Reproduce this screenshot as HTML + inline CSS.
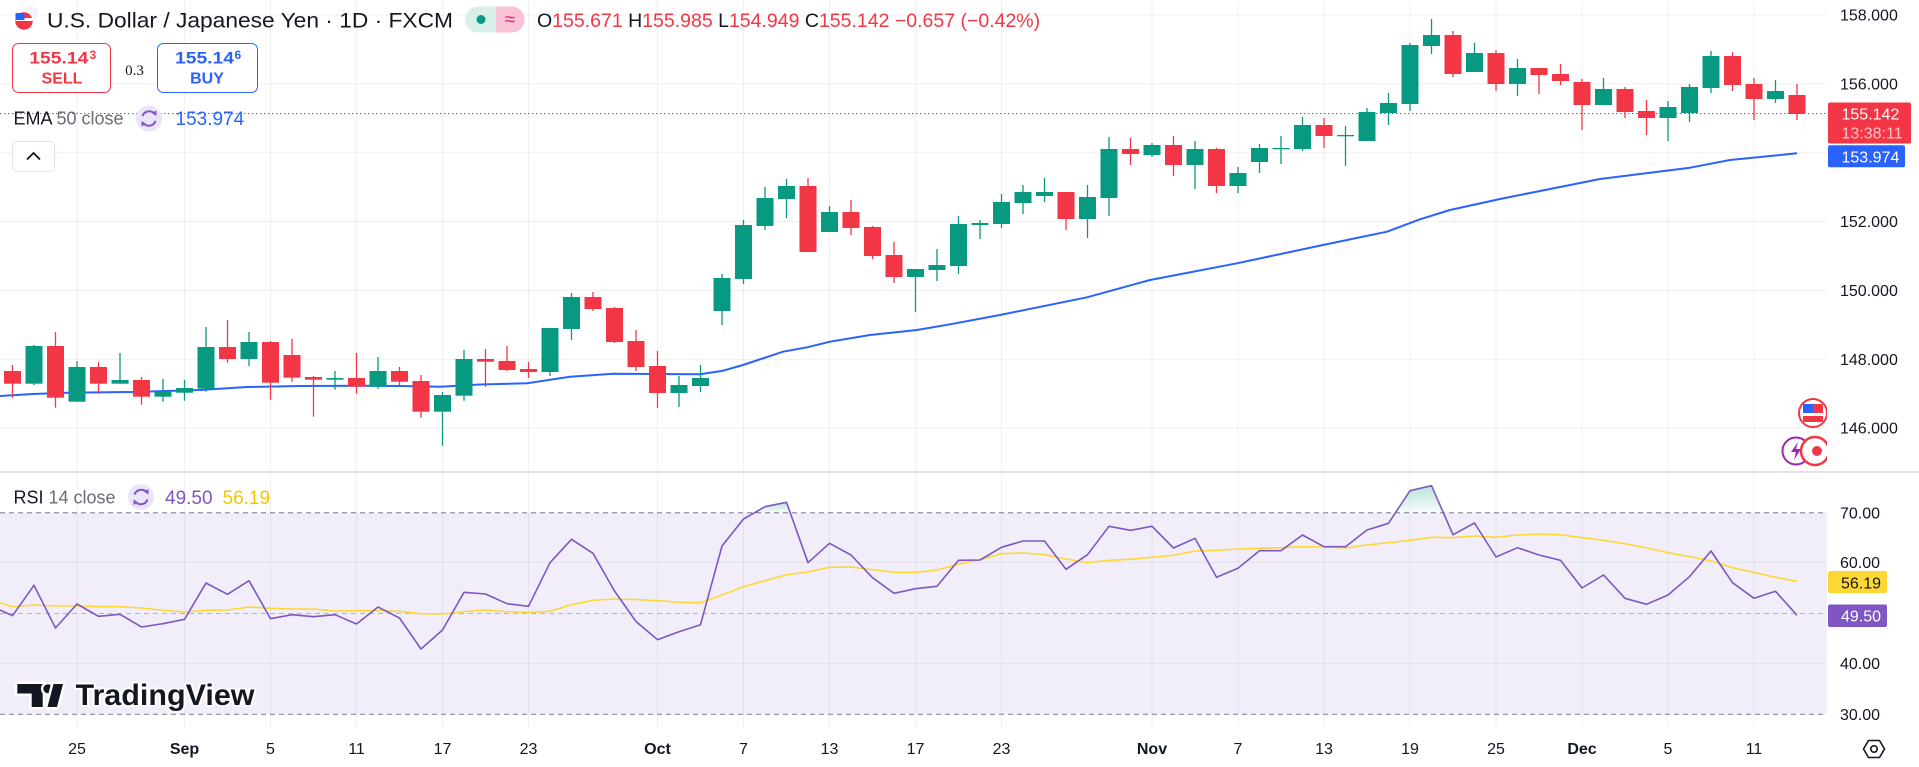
<!DOCTYPE html>
<html>
<head>
<meta charset="utf-8">
<style>
html,body{margin:0;padding:0;background:#fff;}
body{width:1919px;height:767px;overflow:hidden;}
svg{display:block;font-family:"Liberation Sans",Arial,sans-serif;}
.ax{font-size:16px;fill:#131722;}
.tm{font-size:16px;fill:#131722;text-anchor:middle;}
.tmb{font-size:16px;fill:#131722;text-anchor:middle;font-weight:bold;}
</style>
</head>
<body>
<svg width="1919" height="767" viewBox="0 0 1919 767" xmlns="http://www.w3.org/2000/svg">
<defs>
  <clipPath id="pane"><rect x="0" y="0" width="1827" height="728"/></clipPath>
  <linearGradient id="ob" x1="0" y1="0" x2="0" y2="1">
    <stop offset="0" stop-color="#089981" stop-opacity="0.28"/>
    <stop offset="1" stop-color="#089981" stop-opacity="0.03"/>
  </linearGradient>
</defs>
<rect x="0" y="0" width="1919" height="767" fill="#fff"/>

<g clip-path="url(#pane)">
  <rect x="0" y="512.7" width="1827" height="201.6" fill="#f2eef9"/>
  <g stroke="rgba(42,46,57,0.07)" stroke-width="1">
    <path d="M77 0V728M184.5 0V728M270.5 0V728M356.5 0V728M442.5 0V728M528.5 0V728M657.5 0V728M743.5 0V728M829.5 0V728M915.5 0V728M1001.5 0V728M1152 0V728M1238 0V728M1324 0V728M1410 0V728M1496 0V728M1582 0V728M1668 0V728M1754 0V728"/>
    <path d="M0 15H1827M0 83.8H1827M0 152.7H1827M0 221.5H1827M0 290.4H1827M0 359.2H1827M0 428H1827M0 562.1H1827M0 663.3H1827"/>
  </g>
  <path d="M0 512.7H1827M0 714.3H1827" stroke="#787b86" stroke-width="1" stroke-dasharray="5 4"/>
  <path d="M0 613.5H1827" stroke="#b2b5be" stroke-width="1" stroke-dasharray="5 4"/>
  <polygon points="754.5,512.7 765,506.7 786.5,502.3 790.2,512.7" fill="url(#ob)"/>
  <polygon points="1395.5,512.7 1410,490.7 1431.5,485.7 1443.3,512.7" fill="url(#ob)"/>

  <path d="M0 113.5H1827" stroke="#f23645" stroke-width="1" stroke-dasharray="1.5 2.5"/>

  <polyline fill="none" stroke="#2962ff" stroke-width="2" stroke-linejoin="round" points="0,396 33,394 67,392.7 133,392 200,390 247,387 300,386 367,385.7 400,386 440,386.7 480,384.5 527,383.3 570,376.7 613,373.7 700,374.3 723,370.7 743,365 783,351.7 807,347.3 830,341.7 870,335 917,330 950,324.3 1000,315 1087,297.3 1150,280 1237,263.3 1323,245 1387,231.7 1420,219.3 1450,210 1500,199 1530,193 1580,183 1600,179 1690,167.7 1730,160 1797,153.3"/>

  <path stroke="#089981" stroke-width="1.3" fill="none" d="M34 345V385M77 361V401.7M120 353V383.7M163 379V401.7M184.5 380V400.7M206 327V391.7M249 332V366M335 371V389.7M378 357V388.7M442.5 392V445.7M464 350V400.7M550 328V376M571.5 293V340M679 376V407M700.5 365V392M722 274V325M743.5 220V284M765 187V230M786.5 179V218M829.5 206V232M915.5 269V312M937 249V281M958.5 216V274M980 220V239M1001.5 194V228M1023 185V214M1044.5 178V202M1087.5 185V238M1109 137V216M1152 143V157M1195 141V189M1238 167V193M1259.5 144V173M1281 136V164M1302.5 117V151M1345.5 126V166M1367 108V141M1388.5 93V125M1410 43V111M1431.5 19V54M1474.5 43V72M1517.5 59V96M1603.5 78V105M1668 101V141M1689.5 84V122M1711 51V93M1775.5 80V103"/>
  <path stroke="#f23645" stroke-width="1.3" fill="none" d="M12.5 365V397.7M55.5 332V407.7M98.5 362V393.7M141.5 377V404.7M227.5 320V362.7M270.5 341V399.7M292 339V381.7M313.5 376V416.7M356.5 353V393.7M399.5 367V385.7M421 375V417.7M485.5 349V386.7M507 346V371M528.5 362V378M593 292V311M614.5 307V343M636 330V371M657.5 351V408M808 178V252M851 200V235M872.5 226V259M894 242V283M1066 192V230M1130.5 138V165M1173.5 136V176M1216.5 148V193M1324 118V148M1453 31V77M1496 50V91M1539 68V94M1560.5 64V85M1582 79V130M1625 87V118M1646.5 100V135M1732.5 52V91M1754 78V120M1797 84V120"/>
  <g fill="#089981">
    <rect x="25.5" y="346" width="17" height="37.7"/>
    <rect x="68.5" y="367" width="17" height="34.7"/>
    <rect x="111.5" y="380" width="17" height="3.7"/>
    <rect x="154.5" y="392" width="17" height="4.7"/>
    <rect x="176" y="388" width="17" height="4.7"/>
    <rect x="197.5" y="347" width="17" height="41.7"/>
    <rect x="240.5" y="342" width="17" height="17"/>
    <rect x="326.5" y="378" width="17" height="1.7"/>
    <rect x="369.5" y="371" width="17" height="15.7"/>
    <rect x="434" y="395" width="17" height="16.7"/>
    <rect x="455.5" y="359" width="17" height="36.7"/>
    <rect x="541.5" y="328" width="17" height="44"/>
    <rect x="563" y="297" width="17" height="32"/>
    <rect x="670.5" y="385" width="17" height="8"/>
    <rect x="692" y="378" width="17" height="8"/>
    <rect x="713.5" y="278" width="17" height="33"/>
    <rect x="735" y="225" width="17" height="54"/>
    <rect x="756.5" y="198" width="17" height="28"/>
    <rect x="778" y="186" width="17" height="13"/>
    <rect x="821" y="212" width="17" height="20"/>
    <rect x="907" y="269" width="17" height="8"/>
    <rect x="928.5" y="265" width="17" height="5"/>
    <rect x="950" y="224" width="17" height="42"/>
    <rect x="971.5" y="223" width="17" height="2"/>
    <rect x="993" y="202" width="17" height="22"/>
    <rect x="1014.5" y="192" width="17" height="11"/>
    <rect x="1036" y="192" width="17" height="4"/>
    <rect x="1079" y="197" width="17" height="22"/>
    <rect x="1100.5" y="149" width="17" height="49"/>
    <rect x="1143.5" y="145" width="17" height="10"/>
    <rect x="1186.5" y="149" width="17" height="16"/>
    <rect x="1229.5" y="173" width="17" height="13"/>
    <rect x="1251" y="148" width="17" height="14"/>
    <rect x="1272.5" y="148" width="17" height="1.3"/>
    <rect x="1294" y="125" width="17" height="24"/>
    <rect x="1337" y="135" width="17" height="1.3"/>
    <rect x="1358.5" y="112" width="17" height="29"/>
    <rect x="1380" y="103" width="17" height="10"/>
    <rect x="1401.5" y="45" width="17" height="59"/>
    <rect x="1423" y="35" width="17" height="11"/>
    <rect x="1466" y="53" width="17" height="19"/>
    <rect x="1509" y="68" width="17" height="16"/>
    <rect x="1595" y="89" width="17" height="16"/>
    <rect x="1659.5" y="107" width="17" height="11"/>
    <rect x="1681" y="87" width="17" height="26"/>
    <rect x="1702.5" y="56" width="17" height="32"/>
    <rect x="1767" y="91" width="17" height="8"/>
  </g>
  <g fill="#f23645">
    <rect x="4" y="371" width="17" height="12.7"/>
    <rect x="47" y="346" width="17" height="51.7"/>
    <rect x="90" y="367" width="17" height="16.7"/>
    <rect x="133" y="380" width="17" height="16.7"/>
    <rect x="219" y="347" width="17" height="12"/>
    <rect x="262" y="342" width="17" height="40.7"/>
    <rect x="283.5" y="355" width="17" height="22.7"/>
    <rect x="305" y="377" width="17" height="2.7"/>
    <rect x="348" y="378" width="17" height="8.7"/>
    <rect x="391" y="371" width="17" height="10.7"/>
    <rect x="412.5" y="381" width="17" height="30.7"/>
    <rect x="477" y="359" width="17" height="2.7"/>
    <rect x="498.5" y="361" width="17" height="9"/>
    <rect x="520" y="369" width="17" height="3"/>
    <rect x="584.5" y="297" width="17" height="12"/>
    <rect x="606" y="308" width="17" height="34"/>
    <rect x="627.5" y="341" width="17" height="26"/>
    <rect x="649" y="366" width="17" height="27"/>
    <rect x="799.5" y="186" width="17" height="66"/>
    <rect x="842.5" y="212" width="17" height="16"/>
    <rect x="864" y="227" width="17" height="29"/>
    <rect x="885.5" y="255" width="17" height="22"/>
    <rect x="1057.5" y="192" width="17" height="27"/>
    <rect x="1122" y="149" width="17" height="5"/>
    <rect x="1165" y="145" width="17" height="20"/>
    <rect x="1208" y="149" width="17" height="37"/>
    <rect x="1315.5" y="125" width="17" height="11"/>
    <rect x="1444.5" y="35" width="17" height="39"/>
    <rect x="1487.5" y="53" width="17" height="31"/>
    <rect x="1530.5" y="68" width="17" height="7"/>
    <rect x="1552" y="74" width="17" height="7"/>
    <rect x="1573.5" y="82" width="17" height="23"/>
    <rect x="1616.5" y="89" width="17" height="23"/>
    <rect x="1638" y="111" width="17" height="7"/>
    <rect x="1724" y="56" width="17" height="29"/>
    <rect x="1745.5" y="84" width="17" height="15"/>
    <rect x="1788.5" y="95" width="17" height="19"/>
  </g>

  <polyline fill="none" stroke="#fdd835" stroke-width="1.6" stroke-linejoin="round" points="0,602.7 12.5,606.7 34,605 55.5,606 77,606 98.5,606.7 120,606.7 141.5,608 163,610.3 184.5,612 206,610.3 227.5,610 249,607 270.5,608.3 292,609 313.5,609 335,611 356.5,610.7 378,610.7 399.5,611.3 421,613.7 442.5,614 464,611.7 485.5,610 507,611.7 528.5,612.3 550,611.3 571.5,604.7 593,600.3 614.5,599 636,599.5 657.5,600.7 679,602.3 700.5,602.7 722,595 743.5,586.7 765,580.7 786.5,574.7 808,572 829.5,567.3 851,567 872.5,569.7 894,572.3 915.5,572.3 937,570 958.5,564.3 980,559.7 1001.5,553.7 1023,553 1044.5,554.7 1066,559 1087.5,562.7 1109,560.3 1130.5,559.3 1152,557.3 1173.5,555.3 1195,551 1216.5,550.3 1238,549 1259.5,548.3 1281,547.7 1302.5,546.7 1324,547 1345.5,548 1367,545 1388.5,542.7 1410,540.3 1431.5,537.3 1453,537.7 1474.5,536 1496,537.3 1517.5,535 1539,534 1560.5,534.7 1582,537.7 1603.5,540.3 1625,543.7 1646.5,548 1668,552.7 1689.5,556.7 1711,560.7 1732.5,567.7 1754,572.5 1775.5,577.3 1797,581.3"/>
  <polyline fill="none" stroke="#7e57c2" stroke-width="1.6" stroke-linejoin="round" points="0,610 12.5,615.7 34,585.3 55.5,628 77,604 98.5,616.3 120,614.3 141.5,627 163,623.7 184.5,619.3 206,583 227.5,594.3 249,580.7 270.5,618.7 292,614.7 313.5,616.7 335,614.7 356.5,624 378,607 399.5,618 421,649 442.5,630 464,592.3 485.5,594 507,603.7 528.5,606.3 550,562.7 571.5,539.3 593,553.3 614.5,591 636,621.5 657.5,639.7 679,631.7 700.5,624.7 722,546 743.5,519 765,506.7 786.5,502.3 808,562.7 829.5,543.3 851,555 872.5,577.7 894,593.3 915.5,588.7 937,586.3 958.5,560.3 980,560 1001.5,547.3 1023,541 1044.5,541 1066,569.3 1087.5,554.7 1109,526.3 1130.5,530.3 1152,526.3 1173.5,548 1195,538.3 1216.5,577.3 1238,568.3 1259.5,550.7 1281,550.7 1302.5,535 1324,546.7 1345.5,546.7 1367,530 1388.5,523.3 1410,490.7 1431.5,485.7 1453,534.7 1474.5,523 1496,557 1517.5,547.7 1539,555 1560.5,560.3 1582,588 1603.5,575 1625,598.3 1646.5,604.3 1668,595 1689.5,576.7 1711,551 1732.5,582.7 1754,598.3 1775.5,591.3 1797,615.3"/>

  <circle cx="1813" cy="413" r="14" fill="#fff" stroke="#f23645" stroke-width="2"/>
  <rect x="1803" y="404" width="20" height="18" rx="2" fill="#f23645"/>
  <rect x="1803" y="404" width="10" height="9" fill="#2962ff"/>
  <rect x="1803" y="413" width="20" height="3" fill="#fff"/>
  <circle cx="1796" cy="451" r="13.5" fill="#fff" stroke="#9c27b0" stroke-width="2"/>
  <path d="M1798 442 L1791 452 L1796 452 L1794 460 L1801 449 L1796 449 Z" fill="#9c27b0"/>
  <circle cx="1815" cy="451" r="14" fill="#fff" stroke="#f23645" stroke-width="2.5"/>
  <circle cx="1817" cy="451" r="5" fill="#f23645"/>
</g>

<rect x="0" y="471" width="1919" height="2" fill="#e0e3eb"/>

<g class="ax">
  <text x="1840" y="20.7">158.000</text>
  <text x="1840" y="89.5">156.000</text>
  <text x="1840" y="227.2">152.000</text>
  <text x="1840" y="296.1">150.000</text>
  <text x="1840" y="364.9">148.000</text>
  <text x="1840" y="433.7">146.000</text>
  <text x="1840" y="518.5">70.00</text>
  <text x="1840" y="567.9">60.00</text>
  <text x="1840" y="669.1">40.00</text>
  <text x="1840" y="720.1">30.00</text>
</g>
<rect x="1828" y="102.5" width="83" height="41" rx="2" fill="#f23645"/>
<text x="1841.5" y="119.5" font-size="16" fill="#fff">155.142</text>
<text x="1841.5" y="138.5" font-size="16" fill="#fff" fill-opacity="0.72">13:38:11</text>
<rect x="1828" y="145.3" width="77" height="22" rx="2" fill="#2962ff"/>
<text x="1841.5" y="162.5" font-size="16" fill="#fff">153.974</text>
<rect x="1828" y="571" width="59" height="22" rx="2" fill="#fdd835"/>
<text x="1841" y="588.5" font-size="16" fill="#131722">56.19</text>
<rect x="1828" y="604.5" width="59" height="22.5" rx="2" fill="#7e57c2"/>
<text x="1841" y="621.5" font-size="16" fill="#fff">49.50</text>

<g>
  <text class="tm" x="77" y="754">25</text>
  <text class="tmb" x="184.5" y="754">Sep</text>
  <text class="tm" x="270.5" y="754">5</text>
  <text class="tm" x="356.5" y="754">11</text>
  <text class="tm" x="442.5" y="754">17</text>
  <text class="tm" x="528.5" y="754">23</text>
  <text class="tmb" x="657.5" y="754">Oct</text>
  <text class="tm" x="743.5" y="754">7</text>
  <text class="tm" x="829.5" y="754">13</text>
  <text class="tm" x="915.5" y="754">17</text>
  <text class="tm" x="1001.5" y="754">23</text>
  <text class="tmb" x="1152" y="754">Nov</text>
  <text class="tm" x="1238" y="754">7</text>
  <text class="tm" x="1324" y="754">13</text>
  <text class="tm" x="1410" y="754">19</text>
  <text class="tm" x="1496" y="754">25</text>
  <text class="tmb" x="1582" y="754">Dec</text>
  <text class="tm" x="1668" y="754">5</text>
  <text class="tm" x="1754" y="754">11</text>
</g>
<polygon points="1863.5,749 1868.5,740.5 1879.5,740.5 1884.5,749 1879.5,757.5 1868.5,757.5" fill="none" stroke="#131722" stroke-width="1.6"/>
<circle cx="1874" cy="749" r="3.2" fill="none" stroke="#131722" stroke-width="1.6"/>

<!-- header -->
<circle cx="31" cy="13.5" r="8" fill="#f0f3fa" stroke="#fff" stroke-width="1.5"/>
<circle cx="24" cy="21" r="9.5" fill="#f23645" stroke="#fff" stroke-width="1.5"/>
<rect x="15.5" y="18" width="17" height="3" fill="#fff"/>
<rect x="15.5" y="13" width="9" height="7" fill="#2962ff"/>
<text x="47" y="27.5" font-size="21" fill="#131722" textLength="406" lengthAdjust="spacingAndGlyphs">U.S. Dollar / Japanese Yen · 1D · FXCM</text>
<path d="M478 6.5 H496 V32.5 H478 A13 13 0 0 1 478 6.5 Z" fill="#d9f0ea"/>
<path d="M496 6.5 H511.5 A13 13 0 0 1 511.5 32.5 H496 Z" fill="#f8c3d6"/>
<circle cx="481" cy="19.5" r="4.5" fill="#089981"/>
<text x="510" y="25.5" font-size="19" fill="#e91e63" text-anchor="middle">≈</text>
<text x="537" y="27" font-size="19.5" fill="#131722">O<tspan fill="#f23645">155.671</tspan> H<tspan fill="#f23645">155.985</tspan> L<tspan fill="#f23645">154.949</tspan> C<tspan fill="#f23645">155.142</tspan> <tspan fill="#f23645">−0.657 (−0.42%)</tspan></text>

<!-- sell / buy -->
<rect x="12.5" y="43.5" width="98" height="49" rx="6" fill="#fff" stroke="#f23645" stroke-width="1"/>
<text x="29.3" y="63.5" font-size="17" font-weight="bold" fill="#f23645" textLength="59" lengthAdjust="spacingAndGlyphs">155.14</text>
<text x="89.5" y="59" font-size="12" font-weight="bold" fill="#f23645">3</text>
<text x="62" y="83.5" font-size="16" font-weight="bold" fill="#f23645" text-anchor="middle">SELL</text>
<text x="134.5" y="75" font-size="15" fill="#131722" text-anchor="middle" font-family="Liberation Serif, serif">0.3</text>
<rect x="157.5" y="43.5" width="100" height="49" rx="6" fill="#fff" stroke="#2962ff" stroke-width="1"/>
<text x="175" y="63.5" font-size="17" font-weight="bold" fill="#2962ff" textLength="59" lengthAdjust="spacingAndGlyphs">155.14</text>
<text x="234.5" y="59" font-size="12" font-weight="bold" fill="#2962ff">6</text>
<text x="207" y="83.5" font-size="16" font-weight="bold" fill="#2962ff" text-anchor="middle">BUY</text>

<!-- EMA legend -->
<text x="13.5" y="124.5" font-size="18" fill="#131722">EMA <tspan fill="#6a6d78">50 close</tspan></text>
<circle cx="149" cy="118.5" r="13" fill="#ebe4fa"/>
<path d="M142.5 116 A7 7 0 0 1 155 114.5" fill="none" stroke="#7e57c2" stroke-width="2"/>
<path d="M155.5 121 A7 7 0 0 1 143 122.5" fill="none" stroke="#7e57c2" stroke-width="2"/>
<path d="M152 113 L156.5 110.5 L156.5 116 Z" fill="#7e57c2"/>
<path d="M146 124 L141.5 126.5 L141.5 121 Z" fill="#7e57c2"/>
<text x="175.5" y="125" font-size="19" fill="#2962ff">153.974</text>
<rect x="12.5" y="141.5" width="42" height="30" rx="4" fill="#fff" stroke="#e0e3eb" stroke-width="1"/>
<path d="M27 159.5 L33.5 153 L40 159.5" fill="none" stroke="#131722" stroke-width="1.8"/>

<!-- RSI legend -->
<text x="13.5" y="503.5" font-size="18" fill="#131722">RSI <tspan fill="#6a6d78">14 close</tspan></text>
<circle cx="141" cy="497" r="13" fill="#ebe4fa"/>
<path d="M134.5 494.5 A7 7 0 0 1 147 493" fill="none" stroke="#7e57c2" stroke-width="2"/>
<path d="M147.5 499.5 A7 7 0 0 1 135 501" fill="none" stroke="#7e57c2" stroke-width="2"/>
<path d="M144 491.5 L148.5 489 L148.5 494.5 Z" fill="#7e57c2"/>
<path d="M138 502.5 L133.5 505 L133.5 499.5 Z" fill="#7e57c2"/>
<text x="165" y="504" font-size="19" fill="#7e57c2">49.50</text>
<text x="222.5" y="504" font-size="19" fill="#f5c400">56.19</text>

<!-- TradingView watermark -->
<g stroke="#fff" stroke-width="5" stroke-linejoin="round" fill="#131722" paint-order="stroke">
  <polygon points="17.3,684 42.7,684 42.7,707 31.7,707 31.7,693.5 17.3,693.5"/>
  <circle cx="48" cy="688.8" r="4.6"/>
  <polygon points="47.5,707 57,707 63,684 53.5,684"/>
  <text x="75.5" y="705" font-size="30" font-weight="bold" stroke-width="4" textLength="179" lengthAdjust="spacingAndGlyphs">TradingView</text>
</g>
</svg>
</body>
</html>
